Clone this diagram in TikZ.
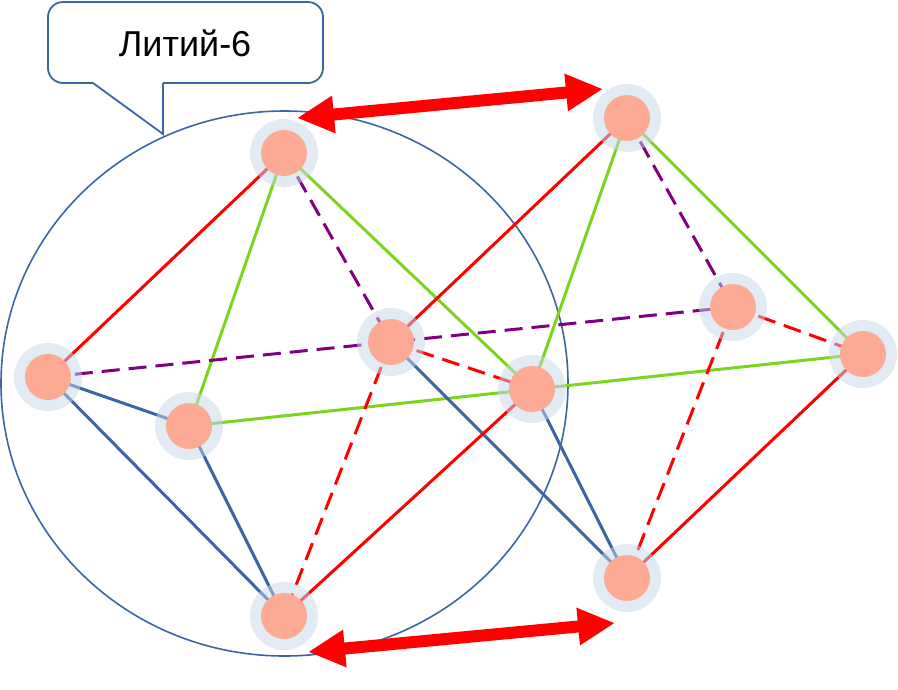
\documentclass[tikz,border=0pt]{standalone}
\usepackage{fontspec}
\setmainfont{Liberation Sans}
\usetikzlibrary{arrows.meta,shapes.geometric}
\definecolor{lred}{HTML}{FF0000}
\definecolor{lgreen}{HTML}{7ED321}
\definecolor{lblue}{HTML}{3A66A6}
\definecolor{lpurple}{HTML}{800080}
\definecolor{halo}{HTML}{C5D5E9}
\definecolor{atom}{HTML}{FCAA94}
\definecolor{frame}{HTML}{3A66A6}
\tikzset{
  edge/.style={line width=3pt},
  dashedge/.style={line width=3pt, dash pattern=on 18pt off 9pt},
  atomnode/.style={circle, inner sep=0pt, minimum size=46pt, fill=atom},
  bigarrow/.style={draw=lred, line width=12pt, {Triangle[length=37pt,width=35pt]}-{Triangle[length=37pt,width=35pt]}, fill=lred},
}
\begin{document}
\begin{tikzpicture}[x=1pt,y=-1pt]
\useasboundingbox (0,0) rectangle (898,689);
% coordinates
\coordinate (pA) at (284,153);
\coordinate (pB) at (48,377);
\coordinate (pC) at (189,426);
\coordinate (pD) at (391,342);
\coordinate (pE) at (532,389);
\coordinate (pF) at (284,616);
\coordinate (pG) at (627,118);
\coordinate (pH) at (733,307);
\coordinate (pI) at (863,354);
\coordinate (pJ) at (627,578);
% big ellipse
\node[ellipse, draw=frame, line width=1.6pt, inner sep=0pt, minimum width=567pt, minimum height=545pt] (ring) at (284.5,383.5) {};
% callout
\draw[frame, line width=1.8pt, fill=white, rounded corners=15pt]
  (163,83) -- (323,83) -- (323,2) -- (48,2) -- (48,83) -- (93,83);
\draw[frame, line width=1.8pt, line join=miter] (93,83) -- (163,134) -- (163,83);
\node[font=\fontsize{36}{40}\selectfont] (label) at (185,43) {Литий-6};
% edges
\draw[edge, lred] (pA) -- (pB);
\draw[edge, lgreen] (pA) -- (pC);
\draw[dashedge, lpurple] (pA) -- (pD);
\draw[edge, lgreen] (pA) -- (pE);
\draw[edge, lblue] (pB) -- (pC);
\draw[edge, lblue] (pB) -- (pF);
\draw[edge, lblue] (pC) -- (pF);
\draw[dashedge, lpurple] (pB) -- (pH);
\draw[edge, lgreen] (pC) -- (pI);
\draw[dashedge, lred] (pD) -- (pE);
\draw[dashedge, lred] (pD) -- (pF);
\draw[edge, lred] (pD) -- (pG);
\draw[edge, lblue] (pD) -- (pJ);
\draw[edge, lred] (pE) -- (pF);
\draw[edge, lgreen] (pE) -- (pG);
\draw[edge, lblue] (pE) -- (pJ);
\draw[dashedge, lpurple] (pG) -- (pH);
\draw[edge, lgreen] (pG) -- (pI);
\draw[dashedge, lred] (pH) -- (pI);
\draw[dashedge, lred] (pH) -- (pJ);
\draw[edge, lred] (pI) -- (pJ);
% halos and atoms
\foreach \p in {A,B,C,D,E,F,G,H,I,J}{
  \fill[halo, fill opacity=0.5] (p\p) circle (34pt);
  \node[atomnode] (n\p) at (p\p) {};
}
% arrows
\coordinate (t1) at (297,118);
\coordinate (t2) at (603,89);
\coordinate (b1) at (308,652);
\coordinate (b2) at (615,623);
\draw[bigarrow] (t1) -- (t2);
\draw[bigarrow] (b1) -- (b2);
\end{tikzpicture}
\end{document}
